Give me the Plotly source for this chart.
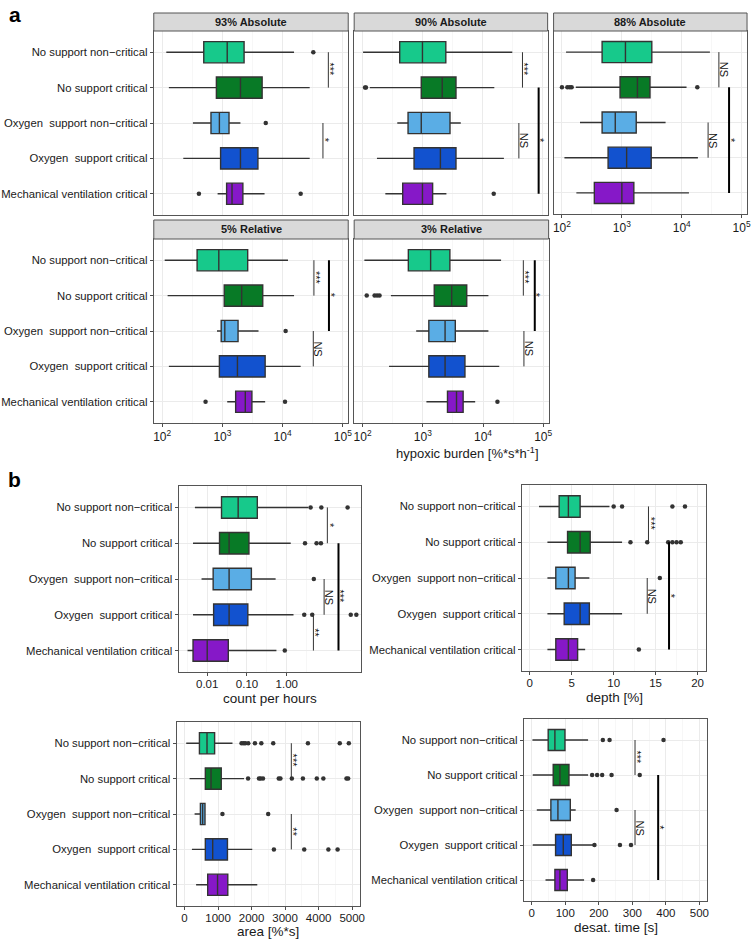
import math
import plotly.graph_objects as go

W, H = 756, 940
FONT = "Liberation Sans, Arial, sans-serif"

categories = ["No support non\u2212critical", "No support critical",
              "Oxygen  support non\u2212critical", "Oxygen  support critical",
              "Mechanical ventilation critical"]
colors = ["#17C98B", "#087A26", "#5AADE5", "#1252CF", "#8618C8"]

# ---------------- panel a : hypoxic burden (log scale) ----------------
a93_lo = [117, 129, 324, 224, 832]
a93_q1 = [490, 794, 646, 933, 1175]
a93_med = [1202, 1995, 891, 1995, 1445]
a93_q3 = [2291, 4571, 1288, 3890, 2188]
a93_hi = [15488, 28184, 1995, 28184, 5012]
a93_out_rows = [0, 2, 4, 4]
a93_out_vals = [32359, 5248, 407, 19953]
a93_sig = [(0, 1, 57544, "***"), (2, 3, 46774, "*")]

a90_lo = [102, 132, 380, 174, 240]
a90_q1 = [417, 955, 575, 724, 468]
a90_med = [1000, 2138, 955, 1995, 1000]
a90_q3 = [2455, 3631, 2884, 3631, 1479]
a90_hi = [31623, 15849, 4365, 22909, 2512]
a90_out_rows = [1, 1, 4]
a90_out_vals = [110, 114, 15488]
a90_sig = [(0, 1, 46774, "***"), (2, 3, 40738, "NS"), (1, 4, 87096, "*")]

a88_lo = [117, 170, 200, 110, 174]
a88_q1 = [468, 933, 468, 589, 347]
a88_med = [1148, 1820, 776, 1202, 1000]
a88_q3 = [3162, 2951, 1738, 3090, 1585]
a88_hi = [29512, 12023, 5370, 18621, 13183]
a88_out_rows = [1, 1, 1, 1, 1]
a88_out_vals = [100, 123, 135, 145, 18197]
a88_sig = [(0, 1, 41687, "NS"), (2, 3, 27542, "NS"), (1, 4, 61660, "*")]

r5_lo = [110, 123, 813, 129, 1202]
r5_q1 = [380, 1072, 955, 891, 1660]
r5_med = [871, 2089, 1096, 1778, 2399]
r5_q3 = [2630, 4677, 1820, 5129, 3090]
r5_hi = [12303, 15488, 3981, 19953, 5129]
r5_out_rows = [2, 4, 4]
r5_out_vals = [11220, 525, 10965]
r5_sig = [(0, 1, 33113, "***"), (0, 2, 58884, "*"), (2, 3, 32359, "NS")]

r3_lo = [107, 295, 776, 275, 1148]
r3_q1 = [575, 1549, 1259, 1259, 2570]
r3_med = [1349, 3020, 2344, 2344, 3631]
r3_q3 = [2818, 5370, 3467, 5012, 4677]
r3_hi = [19953, 12303, 12303, 18621, 7413]
r3_out_rows = [1, 1, 1, 1, 4]
r3_out_vals = [117, 158, 174, 191, 17378]
r3_sig = [(0, 1, 46774, "***"), (0, 2, 72444, "*"), (2, 3, 47863, "NS")]

a_titles = ["93% Absolute", "90% Absolute", "88% Absolute", "5% Relative", "3% Relative"]
a_ticks = [100, 1000, 10000, 100000]
a_ticktext = ["10<sup>2</sup>", "10<sup>3</sup>", "10<sup>4</sup>", "10<sup>5</sup>"]
a_minor = [316.2, 3162, 31623]

# ---------------- panel b ----------------
cph_lo = [0.0049, 0.0044, 0.0072, 0.0044, 0.0032]
cph_q1 = [0.0229, 0.0204, 0.0141, 0.0145, 0.0044]
cph_med = [0.060, 0.0355, 0.0355, 0.0355, 0.0100]
cph_q3 = [0.182, 0.112, 0.129, 0.105, 0.0339]
cph_hi = [3.47, 1.26, 0.525, 1.48, 0.550]
cph_out_rows = [0, 0, 0, 1, 1, 1, 2, 3, 3, 3, 3, 4]
cph_out_vals = [3.98, 7.41, 33.9, 2.88, 5.62, 7.24, 4.79, 2.75, 4.37, 40.7, 56.2, 0.891]
cph_sig = [(0, 1, 10.5, "*"), (2, 3, 8.7, "NS"), (3, 4, 4.68, "**"), (1, 4, 20.0, "***")]
cph_ticks = [0.01, 0.1, 1]
cph_ticktext = ["0.01", "0.10", "1.00"]
cph_minor = [0.00316, 0.0316, 0.316, 3.16]

dep_lo = [1.1, 2.1, 2.1, 2.1, 2.1]
dep_q1 = [3.5, 4.5, 3.1, 4.1, 3.1]
dep_med = [4.6, 6.0, 4.6, 6.0, 4.6]
dep_q3 = [6.0, 7.2, 5.4, 7.1, 5.7]
dep_hi = [9.5, 11.0, 7.1, 11.0, 6.6]
dep_out_rows = [0, 0, 0, 0, 1, 1, 1, 1, 1, 1, 2, 4]
dep_out_vals = [10.0, 11.0, 17.0, 18.5, 12.0, 14.0, 16.5, 17.0, 17.5, 18.0, 15.5, 13.0]
dep_sig = [(0, 1, 14.15, "***"), (2, 3, 14.0, "NS"), (1, 4, 16.6, "*")]
dep_ticks = [0, 5, 10, 15, 20]
dep_minor = [2.5, 7.5, 12.5, 17.5]

area_lo = [50, 150, 300, 220, 345]
area_q1 = [444, 620, 473, 620, 690]
area_med = [670, 790, 540, 840, 985]
area_q3 = [897, 1095, 610, 1280, 1290]
area_hi = [1430, 1775, 620, 2020, 2170]
area_out_rows = [0] * 10 + [1] * 12 + [2, 2] + [3] * 4
area_out_vals = [1700, 1760, 1810, 1900, 2100, 2290, 2645, 3680, 4630, 4900,
                 1895, 2220, 2270, 2340, 2810, 2860, 3200, 3530, 3945, 4140, 4830, 4880,
                 1130, 2495,
                 2665, 3570, 4290, 4565]
area_sig = [(0, 1, 3185, "***"), (2, 3, 3185, "**")]
area_ticks = [0, 1000, 2000, 3000, 4000, 5000]
area_minor = [500, 1500, 2500, 3500, 4500]

des_lo = [2, 3, 15, 3, 41]
des_q1 = [49, 64, 57, 71, 69]
des_med = [69, 84, 78, 94, 84]
des_q3 = [99, 111, 115, 118, 106]
des_hi = [168, 168, 131, 185, 156]
des_out_rows = [0, 0, 0, 1, 1, 1, 1, 1, 2, 3, 3, 3, 4]
des_out_vals = [212, 232, 393, 180, 195, 210, 238, 322, 253, 187, 263, 296, 183]
des_sig = [(0, 1, 308, "***"), (2, 3, 308, "NS"), (1, 4, 377, "*")]
des_ticks = [0, 100, 200, 300, 400, 500]
des_minor = [50, 150, 250, 350, 450]

fig = go.Figure()
layout = dict(width=W, height=H, autosize=False, margin=dict(l=0, r=0, t=0, b=0),
              paper_bgcolor="white", plot_bgcolor="white", showlegend=False,
              font=dict(family=FONT, color="#1a1a1a"), boxmode="overlay")
annotations = []
shapes = []


def fx(p):
    return p / W


def fy(p):
    return 1 - p / H


def add_panel(i, box, lo, q1, med, q3, hi, out_rows, out_vals, sigs, log, xrange,
              ticks, ticktext, minor, show_x, show_y, tick_size, standoff=0):
    xa = "x" if i == 1 else "x%d" % i
    ya = "y" if i == 1 else "y%d" % i
    x0, x1, y0, y1 = box
    for r in range(5):
        fig.add_trace(go.Box(
            y=[categories[r]], q1=[q1[r]], median=[med[r]], q3=[q3[r]],
            lowerfence=[lo[r]], upperfence=[hi[r]], orientation="h",
            xaxis=xa, yaxis=ya, fillcolor=colors[r],
            line=dict(color="#333333", width=1.4), whiskerwidth=0, width=0.6,
            boxpoints=False, hoverinfo="skip", showlegend=False))
    fig.add_trace(go.Scatter(
        x=out_vals, y=[categories[r] for r in out_rows], mode="markers",
        marker=dict(color="#333333", size=4.5), xaxis=xa, yaxis=ya,
        hoverinfo="skip", showlegend=False))
    for (r1, r2, v, lab) in sigs:
        thick = abs(r2 - r1) > 1
        fig.add_trace(go.Scatter(
            x=[v, v], y=[categories[r1], categories[r2]], mode="lines",
            line=dict(color="#000000" if thick else "#333333", width=2 if thick else 1),
            xaxis=xa, yaxis=ya, hoverinfo="skip", showlegend=False))
        annotations.append(dict(
            xref=xa, yref=ya, x=math.log10(v) if log else v, y=(r1 + r2) / 2,
            text=lab, textangle=90, showarrow=False,
            xanchor="center", yanchor="middle",
            xshift=5 if lab == "NS" else 2,
            font=dict(family=FONT, size=11, color="#111111")))
    xkey = "xaxis" if i == 1 else "xaxis%d" % i
    ykey = "yaxis" if i == 1 else "yaxis%d" % i
    layout[xkey] = dict(
        domain=[fx(x0), fx(x1)], anchor=ya, type="log" if log else "linear",
        range=xrange, tickmode="array", tickvals=ticks, ticktext=ticktext,
        showticklabels=show_x, ticks="outside" if show_x else "", ticklen=3,
        tickcolor="#4d4d4d", tickfont=dict(size=tick_size, color="#1a1a1a"),
        ticklabelstandoff=standoff,
        showgrid=True, gridcolor="#EBEBEB", gridwidth=1, zeroline=False,
        showline=True, mirror=True, linecolor="#555555", linewidth=1,
        minor=dict(tickmode="array", tickvals=minor, showgrid=True,
                   gridcolor="#F2F2F2", gridwidth=0.6, ticks=""),
        fixedrange=True)
    layout[ykey] = dict(
        domain=[fy(y1), fy(y0)], anchor=xa, type="category",
        categoryorder="array", categoryarray=categories, range=[4.6, -0.6],
        showticklabels=show_y, ticks="outside" if show_y else "", ticklen=3,
        tickcolor="#4d4d4d", tickfont=dict(size=11.3, color="#1a1a1a"),
        showgrid=True, gridcolor="#EBEBEB", gridwidth=1, zeroline=False,
        showline=True, mirror=True, linecolor="#555555", linewidth=1,
        fixedrange=True)


# panel a layout (pixel boxes: x0, x1, y0, y1)
a_boxes = [(154, 350, 31, 215), (356, 551, 31, 215), (557, 752, 31, 214),
           (154, 350, 239, 423), (356, 552, 239, 423)]
a_strips = [(154, 350, 13, 31), (356, 551, 13, 31), (557, 752, 13, 31),
            (154, 350, 220, 239), (356, 552, 220, 239)]
a_range = [1.86, 5.09]
a_data = [
    (a93_lo, a93_q1, a93_med, a93_q3, a93_hi, a93_out_rows, a93_out_vals, a93_sig),
    (a90_lo, a90_q1, a90_med, a90_q3, a90_hi, a90_out_rows, a90_out_vals, a90_sig),
    (a88_lo, a88_q1, a88_med, a88_q3, a88_hi, a88_out_rows, a88_out_vals, a88_sig),
    (r5_lo, r5_q1, r5_med, r5_q3, r5_hi, r5_out_rows, r5_out_vals, r5_sig),
    (r3_lo, r3_q1, r3_med, r3_q3, r3_hi, r3_out_rows, r3_out_vals, r3_sig),
]
a_showx = [False, False, True, True, True]
a_showy = [True, False, False, True, False]
for k in range(5):
    d = a_data[k]
    add_panel(k + 1, a_boxes[k], *d, log=True, xrange=a_range, ticks=a_ticks,
              ticktext=a_ticktext, minor=a_minor, show_x=a_showx[k],
              show_y=a_showy[k], tick_size=12)
    sx0, sx1, sy0, sy1 = a_strips[k]
    shapes.append(dict(type="rect", xref="paper", yref="paper",
                       x0=fx(sx0), x1=fx(sx1), y0=fy(sy1), y1=fy(sy0),
                       fillcolor="#D9D9D9", line=dict(color="#555555", width=1),
                       layer="above"))
    annotations.append(dict(xref="paper", yref="paper", x=fx((sx0 + sx1) / 2),
                            y=fy((sy0 + sy1) / 2), text="<b>%s</b>" % a_titles[k],
                            showarrow=False, xanchor="center", yanchor="middle",
                            font=dict(family=FONT, size=11, color="#1a1a1a")))

# panel b
add_panel(6, (179, 363, 486, 672), cph_lo, cph_q1, cph_med, cph_q3, cph_hi,
          cph_out_rows, cph_out_vals, cph_sig, log=True, xrange=[-2.72, 1.87],
          ticks=cph_ticks, ticktext=cph_ticktext, minor=cph_minor,
          show_x=True, show_y=True, tick_size=11.5, standoff=-2)
add_panel(7, (525, 711, 485, 671), dep_lo, dep_q1, dep_med, dep_q3, dep_hi,
          dep_out_rows, dep_out_vals, dep_sig, log=False, xrange=[-0.95, 21.05],
          ticks=dep_ticks, ticktext=[str(t) for t in dep_ticks], minor=dep_minor,
          show_x=True, show_y=True, tick_size=11.5, standoff=-2)
add_panel(8, (177, 362, 722, 906), area_lo, area_q1, area_med, area_q3, area_hi,
          area_out_rows, area_out_vals, area_sig, log=False, xrange=[-237, 5237],
          ticks=area_ticks, ticktext=[str(t) for t in area_ticks], minor=area_minor,
          show_x=True, show_y=True, tick_size=11.5, standoff=-2)
add_panel(9, (527, 712, 719, 901), des_lo, des_q1, des_med, des_q3, des_hi,
          des_out_rows, des_out_vals, des_sig, log=False, xrange=[-23.7, 523.7],
          ticks=des_ticks, ticktext=[str(t) for t in des_ticks], minor=des_minor,
          show_x=True, show_y=True, tick_size=11.5, standoff=-2)

# titles and panel letters
titles = [
    ("hypoxic burden [%*s*h<sup>-1</sup>]", 470, 453, 13),
    ("count per hours", 271, 698, 13.5),
    ("depth [%]", 618, 697, 13.5),
    ("area [%*s]", 269.5, 931, 13.5),
    ("desat. time [s]", 619.5, 927, 13.5),
]
for (t, x, y, s) in titles:
    annotations.append(dict(xref="paper", yref="paper", x=fx(x), y=fy(y), text=t,
                            showarrow=False, xanchor="center", yanchor="middle",
                            font=dict(family=FONT, size=s, color="#1a1a1a")))
for (t, x, y) in [("a", 14, 15), ("b", 14, 479)]:
    annotations.append(dict(xref="paper", yref="paper", x=fx(x), y=fy(y),
                            text="<b>%s</b>" % t, showarrow=False,
                            xanchor="center", yanchor="middle",
                            font=dict(family=FONT, size=21, color="#000000")))

layout["annotations"] = annotations
layout["shapes"] = shapes
fig.update_layout(**layout)
fig.write_html(
    "out.html",
    config={"displayModeBar": False, "staticPlot": True},
    post_script="document.body.style.margin='0';"
                "document.documentElement.style.overflow='hidden';"
                "document.body.style.overflow='hidden';")
